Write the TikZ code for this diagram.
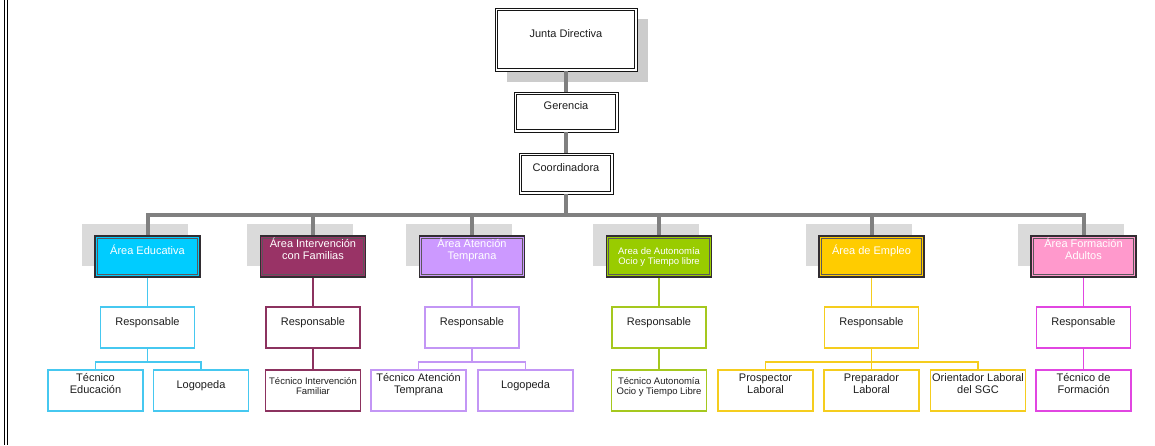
\documentclass[tikz,border=0pt]{standalone}
\usepackage{fontspec}
\setmainfont{Liberation Sans}
\usepackage{tikz}
\definecolor{trunkgray}{RGB}{128,128,128}
\definecolor{ghostgray}{RGB}{218,218,218}
\definecolor{boxedge}{RGB}{20,20,20}
\definecolor{areaedge}{RGB}{50,45,50}
\definecolor{inkgray}{RGB}{30,30,30}
\definecolor{fEdu}{RGB}{0,204,255}
\definecolor{fFam}{RGB}{153,51,102}
\definecolor{fTem}{RGB}{204,153,255}
\definecolor{fAut}{RGB}{153,204,0}
\definecolor{fEmp}{RGB}{255,204,0}
\definecolor{fAdu}{RGB}{255,153,204}
\definecolor{lEdu}{RGB}{70,200,240}
\definecolor{lFam}{RGB}{140,50,95}
\definecolor{lTem}{RGB}{195,150,245}
\definecolor{lAut}{RGB}{165,200,30}
\definecolor{lEmp}{RGB}{245,205,30}
\definecolor{lAdu}{RGB}{225,70,225}
\newcommand{\boxfont}{\fontsize{11}{12}\selectfont}
\newcommand{\smallboxfont}{\fontsize{9.5}{10.5}\selectfont}

\begin{document}
\begin{tikzpicture}[x=1pt, y=-1pt,
  rim/.style={path picture={\draw[#1, line width=0.8pt]
      ([shift={(2.3pt,-2.3pt)}]path picture bounding box.north west) rectangle
      ([shift={(-2.3pt,2.3pt)}]path picture bounding box.south east);}},
  mgmt/.style={rectangle, draw=boxedge, line width=0.8pt, rim=boxedge,
               fill=white, text=inkgray, font=\boxfont,
               text height=8pt, text depth=13pt},
  area/.style={rectangle, draw=areaedge, line width=1.4pt, rim=areaedge!80,
               fill=#1, text=white, font=\boxfont, align=center,
               minimum width=105pt, minimum height=41pt, inner sep=1pt,
               text height=8pt, text depth=13pt},
  resp/.style={rectangle, draw=#1, line width=1.5pt, fill=white, text=inkgray,
               font=\boxfont, minimum width=94pt, minimum height=41pt,
               text height=8pt, text depth=13pt},
  leaf/.style={rectangle, draw=#1, line width=1.5pt, fill=white, text=inkgray,
               font=\boxfont, align=center, minimum width=95pt, minimum height=41pt,
               inner sep=1pt, text height=8pt, text depth=13pt},
  pair/.style={text height=13pt, text depth=7pt},
  ghost/.style={rectangle, fill=ghostgray, minimum width=106pt, minimum height=42pt,
                inner sep=0pt},
  trunk/.style={draw=trunkgray, line width=4pt},
  link/.style={draw=#1, line width=1.8pt},
]
  \useasboundingbox (0,0) rectangle (1155,445);
  \draw[line width=1pt] (4,0) -- (4,445);
  \draw[line width=1pt] (7,0) -- (7,445);

  % shadows
  \node[ghost, fill=black!20, minimum width=141pt, minimum height=63pt] (jd-sh) at (577.5,50.5) {};
  \foreach \n/\x in {edu/147.5, fam/313, tem/472, aut/659, emp/871.5, adu/1083.5}
    \node[ghost] (\n-sh) at (\x-13,245) {};

  \node[mgmt, minimum width=142pt, minimum height=63pt] (jd) at (566,39.5) {Junta Directiva};
  \node[mgmt, minimum width=104pt, minimum height=40pt] (ger) at (566,112) {Gerencia};
  \node[mgmt, minimum width=94pt, minimum height=41pt] (coo) at (566,173.5) {Coordinadora};

  \node[area=fEdu] (edu) at (147.5,256.5) {Área Educativa};
  \node[area=fFam, pair] (fam) at (313,256.5) {Área Intervención\\con Familias};
  \node[area=fTem, pair] (tem) at (472,256.5) {Área Atención\\Temprana};
  \node[area=fAut, font=\smallboxfont, text height=22pt, text depth=6pt] (aut) at (659,256.5)
    {Area de Autonomía\\Ocio y Tiempo libre};
  \node[area=fEmp] (emp) at (871.5,256.5) {Área de Empleo};
  \node[area=fAdu, pair] (adu) at (1083.5,256.5) {Área Formación\\Adultos};

  \coordinate (bus) at (566,215);
  \draw[trunk] (jd.south) -- (ger.north);
  \draw[trunk] (ger.south) -- (coo.north);
  \foreach \n in {edu,fam,tem,aut,emp,adu}
    \draw[trunk] (coo.south) -- (coo.south |- bus) -| (\n.north);

  \node[resp=lEdu] (eduR) at (147.5,327.5) {Responsable};
  \node[resp=lFam] (famR) at (313,327.5) {Responsable};
  \node[resp=lTem] (temR) at (472,327.5) {Responsable};
  \node[resp=lAut] (autR) at (659,327.5) {Responsable};
  \node[resp=lEmp] (empR) at (871.5,327.5) {Responsable};
  \node[resp=lAdu] (aduR) at (1083.5,327.5) {Responsable};

  \node[leaf=lEdu, pair] (eduA) at (95.5,390.5) {Técnico\\Educación};
  \node[leaf=lEdu] (eduB) at (201,390.5) {Logopeda};
  \node[leaf=lFam, font=\smallboxfont, text height=14pt, text depth=6pt] (famA) at (313,390.5)
    {Técnico Intervención\\Familiar};
  \node[leaf=lTem, pair] (temA) at (418.5,390.5) {Técnico Atención\\Temprana};
  \node[leaf=lTem] (temB) at (525.5,390.5) {Logopeda};
  \node[leaf=lAut, font=\smallboxfont, text height=14pt, text depth=6pt] (autA) at (659,390.5)
    {Técnico Autonomía\\Ocio y Tiempo Libre};
  \node[leaf=lEmp, pair] (empA) at (765.5,390.5) {Prospector\\Laboral};
  \node[leaf=lEmp, pair] (empB) at (871.5,390.5) {Preparador\\Laboral};
  \node[leaf=lEmp, pair] (empC) at (978,390.5) {Orientador Laboral\\del SGC};
  \node[leaf=lAdu, pair] (aduA) at (1083.5,390.5) {Técnico de\\Formación};

  \draw[link=lEdu] (edu) -- (eduR);
  \draw[link=lFam] (fam) -- (famR);
  \draw[link=lTem] (tem) -- (temR);
  \draw[link=lAut] (aut) -- (autR);
  \draw[link=lEmp] (emp) -- (empR);
  \draw[link=lAdu] (adu) -- (aduR);

  \draw[link=lEdu] (eduR.south) -- ++(0,13) -| (eduA.north);
  \draw[link=lEdu] (eduR.south) -- ++(0,13) -| (eduB.north);
  \draw[link=lFam] (famR) -- (famA);
  \draw[link=lTem] (temR.south) -- ++(0,13) -| (temA.north);
  \draw[link=lTem] (temR.south) -- ++(0,13) -| (temB.north);
  \draw[link=lAut] (autR) -- (autA);
  \draw[link=lEmp] (empR.south) -- ++(0,13) -| (empA.north);
  \draw[link=lEmp] (empR) -- (empB);
  \draw[link=lEmp] (empR.south) -- ++(0,13) -| (empC.north);
  \draw[link=lAdu] (aduR) -- (aduA);
\end{tikzpicture}
\end{document}
